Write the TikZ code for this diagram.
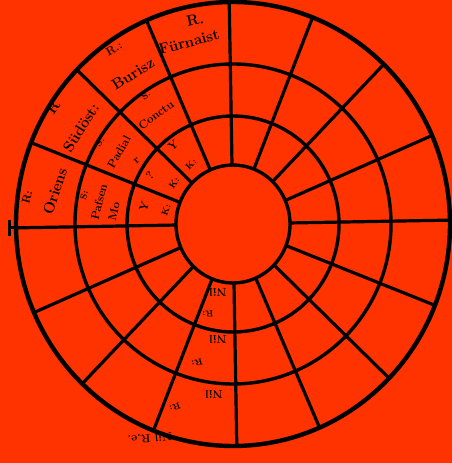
\documentclass[tikz,border=0pt]{standalone}
\definecolor{bg}{RGB}{255,51,0}
\begin{document}
\begin{tikzpicture}[x=1pt,y=1pt,
  ring/.style={line width=3.4pt},
  spoke/.style={line width=3.2pt},
  big/.style={font=\bfseries\fontsize{15}{15}\selectfont, inner sep=0pt},
  mid/.style={font=\bfseries\fontsize{11.5}{11.5}\selectfont, inner sep=0pt},
  sml/.style={font=\bfseries\fontsize{9}{9}\selectfont, inner sep=0pt}]
\fill[bg] (0,0) rectangle (452,463);
\useasboundingbox (0,0) rectangle (452,463);
\begin{scope}[shift={(233,239)}]
  \draw[ring] (0,0) ellipse (57 and 59);
  \draw[ring] (0,0) ellipse (106 and 108);
  \draw[ring] (0,0) ellipse (158 and 160);
  \draw[line width=4.4pt] (0,0) ellipse (217 and 222);
  \foreach \a in {0,22.5,...,337.5}
    \draw[spoke] (\a+1:57 and 59) -- (\a+1:217 and 222);
  \coordinate (lt) at (181:224 and 222);
  \draw[spoke] (181:217 and 222) -- (lt);
  \draw[line width=3pt] ([yshift=-8]lt) -- ([yshift=8]lt);
\end{scope}
% outer ring labels
\node[big, rotate=12] (r1) at (195,443) {R.};
\node[big, rotate=15] (t1) at (189,421) {Fürnaist};
\node[mid, rotate=30] (r2) at (114,414) {R.:};
\node[big, rotate=32] (t2) at (133,389) {Burisz};
\node[big, rotate=55] (r3) at (53,356) {R};
\node[big, rotate=58] (t3) at (81,335) {Südöst:};
\node[mid, rotate=75] (r4) at (27,266) {R:};
\node[big, rotate=72] (t4) at (55,272) {Oriens};
% second ring labels
\node[sml, rotate=35] (s1) at (146,368) {S.};
\node[mid, rotate=37] (u1) at (156,348) {Conctu};
\node[sml, rotate=55] (s2) at (100,321) {S.};
\node[mid, rotate=60] (u2) at (119,311) {Padial};
\node[sml, rotate=75] (s3) at (84,268) {S:};
\node[mid, rotate=76] (u3) at (99,261) {Pafsen};
\node[mid, rotate=76] (u4) at (114,252) {Mo};
% inner ring symbols
\node[mid, rotate=40] (y1) at (173,318) {Y};
\node[sml, rotate=45] (k1) at (191,299) {K:};
\node[mid, rotate=45] (y2) at (137,302) {r};
\node[mid, rotate=45] (y3) at (150,288) {?};
\node[sml, rotate=55] (k2) at (174,280) {K:};
\node[mid, rotate=70] (y4) at (144,256) {Y};
\node[sml, rotate=70] (k3) at (166,253) {K:};
% bottom labels (upside down)
\node[mid, rotate=180] (n1) at (218,171) {Nil};
\node[sml, rotate=185] (q1) at (208,149) {R:};
\node[mid, rotate=180] (n2) at (218,124) {Nil};
\node[sml, rotate=195] (q2) at (197,100) {R:};
\node[mid, rotate=180] (n3) at (214,69) {Nil};
\node[sml, rotate=200] (q3) at (175,56) {R:};
\node[mid, rotate=185] (n4) at (150,25) {Nil R.e.};
\end{tikzpicture}
\end{document}
